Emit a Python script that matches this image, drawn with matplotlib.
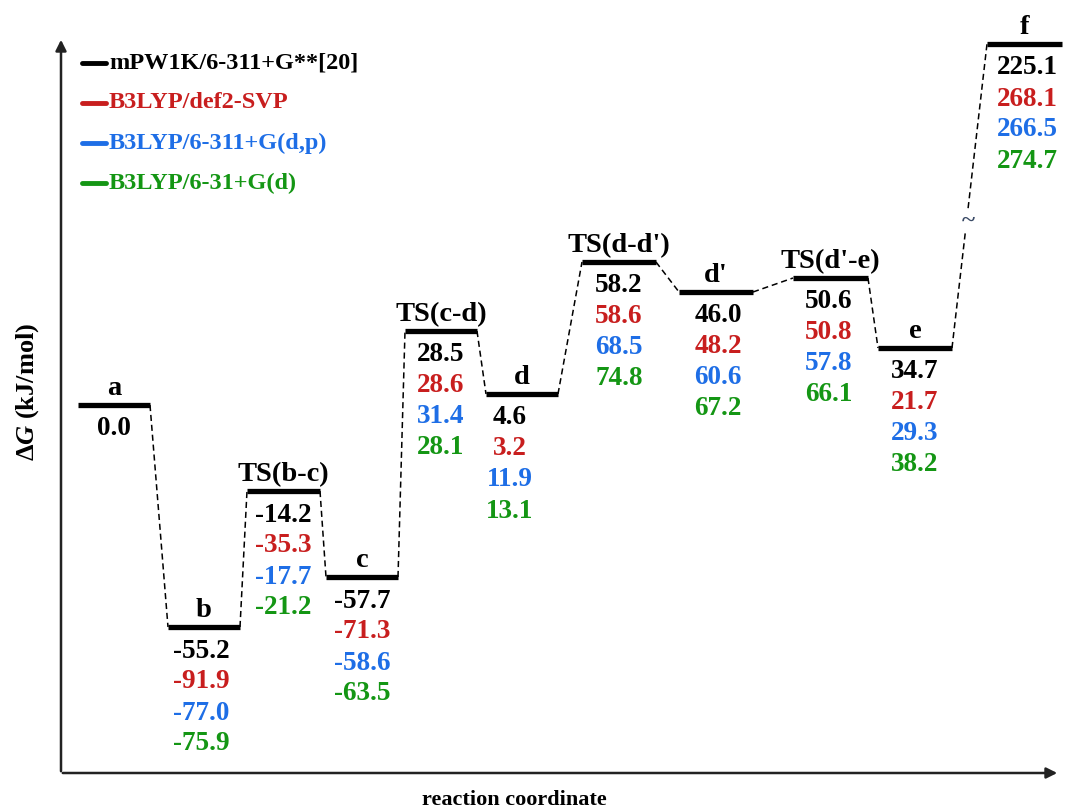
import numpy as np
import matplotlib
matplotlib.use("Agg")
import matplotlib.pyplot as plt

plt.rcParams['font.family'] = 'Liberation Serif'
plt.rcParams['font.weight'] = 'bold'
plt.rcParams['mathtext.fontset'] = 'custom'
plt.rcParams['mathtext.it'] = 'Liberation Serif:italic:bold'
plt.rcParams['mathtext.rm'] = 'Liberation Serif:bold'

# species along the reaction path
states = ['a', 'b', 'TS(b-c)', 'c', 'TS(c-d)', 'd', "TS(d-d')", "d'", "TS(d'-e)", 'e', 'f']

# relative free energies (kJ/mol) for each method
mpw1k = [0.0, -55.2, -14.2, -57.7, 28.5, 4.6, 58.2, 46.0, 50.6, 34.7, 225.1]
def2svp = [np.nan, -91.9, -35.3, -71.3, 28.6, 3.2, 58.6, 48.2, 50.8, 21.7, 268.1]
b3_6311 = [np.nan, -77.0, -17.7, -58.6, 31.4, 11.9, 68.5, 60.6, 57.8, 29.3, 266.5]
b3_631 = [np.nan, -75.9, -21.2, -63.5, 28.1, 13.1, 74.8, 67.2, 66.1, 38.2, 274.7]

methods = ['mPW1K/6-311+G**[20]', 'B3LYP/def2-SVP', 'B3LYP/6-311+G(d,p)', 'B3LYP/6-31+G(d)']

# heights of the levels as drawn in the (schematic, not to scale) diagram
level_h = [0, -222, -86, -172, 74, 11, 143, 113, 127, 57, 361]

# layout (diagram units ~ pixels)
bar_left = [78, 168, 247, 326, 405, 486, 582, 679, 793, 878, 987]
bar_right = [150, 240, 320, 398, 477, 558, 656, 753, 868, 952, 1062]
val_shift = [0, -3, 0, 0, 0, -12, 0, 2, -2, 0, 3]
colors = ['#000000', '#c81e1e', '#1e6ee6', '#149614']

fig = plt.figure(figsize=(10.67, 8.11), dpi=100)
ax = fig.add_axes([0, 0, 1, 1])
ax.set_xlim(0, 1067)
ax.set_ylim(-406, 405)
ax.axis('off')

# axes with arrows
x0, y0 = 61, -368
ax.annotate('', xy=(x0, 368), xytext=(x0, y0 - 1),
            arrowprops=dict(arrowstyle='-|>', lw=1.8, color='#222222', mutation_scale=16))
ax.annotate('', xy=(1060, y0), xytext=(x0 - 1, y0),
            arrowprops=dict(arrowstyle='-|>', lw=1.8, color='#222222', mutation_scale=16))
ax.text(514, -395, 'reaction coordinate', ha='center', va='center', fontsize=16)
ax.text(28, 13, r'Δ$G$ (kJ/mol)', ha='center', va='center', rotation=90, fontsize=19)

series = [mpw1k, def2svp, b3_6311, b3_631]

for i, name in enumerate(states):
    h = level_h[i]
    ax.plot([bar_left[i], bar_right[i]], [h, h], color='black', lw=3.8, solid_capstyle='butt')
    xc = (bar_left[i] + bar_right[i]) / 2
    ax.text(xc, h + 10, name, ha='center', va='baseline', fontsize=20.5)
    for k, s in enumerate(series):
        if np.isnan(s[i]):
            continue
        ax.text(xc + val_shift[i], h - 24 - 31 * k, '%.1f' % s[i], ha='center', va='center',
                fontsize=19.5, color=colors[k])

# dashed connectors
for i in range(len(states) - 1):
    xa, ya = bar_right[i], level_h[i]
    xb, yb = bar_left[i + 1], level_h[i + 1]
    if i == len(states) - 2:
        # broken axis on the last step
        f1, f2 = 0.38, 0.46
        ax.plot([xa, xa + f1 * (xb - xa)], [ya, ya + f1 * (yb - ya)], ls=(0, (4, 2.5)), color='black', lw=1.1)
        ax.plot([xa + f2 * (xb - xa), xb], [ya + f2 * (yb - ya), yb], ls=(0, (4, 2.5)), color='black', lw=1.1)
        fm = (f1 + f2) / 2
        ax.text(xa + fm * (xb - xa) + 2, ya + fm * (yb - ya), '~', ha='center', va='center',
                fontsize=18, color='#3a4a66')
    else:
        ax.plot([xa, xb], [ya, yb], ls=(0, (4, 2.5)), color='black', lw=1.1)

# legend
for k, m in enumerate(methods):
    yy = 405 - (63 + 40 * k)
    ax.plot([82, 106], [yy, yy], color=colors[k], lw=3.5, solid_capstyle='round')
    ax.text(109, yy, m, ha='left', va='center', fontsize=17.5, color=colors[k])

fig.savefig('out.png', dpi=100)
